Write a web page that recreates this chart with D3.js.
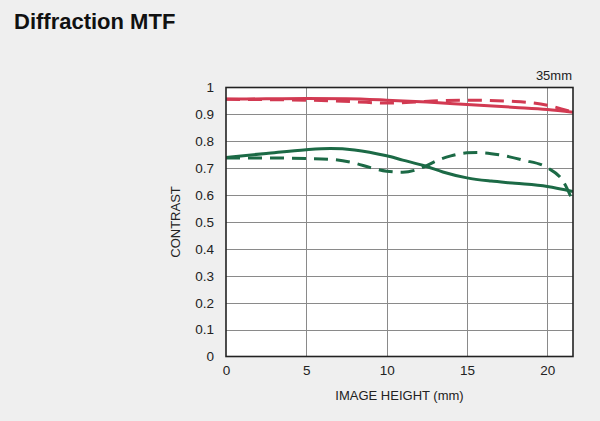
<!DOCTYPE html>
<html><head><meta charset="utf-8">
<script src="https://cdn.jsdelivr.net/npm/d3@7"></script>
<style>
html,body{margin:0;padding:0;background:#efefef;}
svg{display:block;font-family:"Liberation Sans",Arial,sans-serif;}
</style></head>
<body><svg id="c" width="600" height="421"></svg>
<script>
const xTicks = [0, 5, 10, 15, 20];
const yTicks = [0, 0.1, 0.2, 0.3, 0.4, 0.5, 0.6, 0.7, 0.8, 0.9, 1];
const yTickLabels = ["0","0.1","0.2","0.3","0.4","0.5","0.6","0.7","0.8","0.9","1"];
const redSolid = [[0,0.957],[2.5,0.958],[5,0.959],[7.5,0.958],[10,0.953],[12.5,0.946],[15,0.937],[18,0.926],[20,0.918],[21.6,0.908]];
const redDashed = [[0,0.956],[2.5,0.955],[5,0.953],[8,0.947],[10,0.942],[11.5,0.945],[13.3,0.951],[15,0.953],[18,0.948],[20,0.934],[21.6,0.908]];
const greenSolid = [[0,0.740],[2.5,0.755],[5,0.769],[6.5,0.773],[8,0.768],[10,0.746],[11,0.730],[12.4,0.708],[13.5,0.686],[15,0.664],[16.5,0.652],[18,0.644],[20,0.632],[21.6,0.613]];
const greenDashed = [[0,0.738],[2.5,0.738],[5,0.736],[6.5,0.733],[8,0.719],[9,0.702],[10,0.689],[11,0.685],[11.8,0.693],[12.4,0.707],[13.2,0.730],[14,0.746],[15,0.757],[15.7,0.758],[17,0.750],[18.5,0.730],[20,0.702],[21,0.650],[21.6,0.575]];
const seriesColors = {red:"#d23a52", green:"#1c6a46"};

const svg = d3.select("#c");
const x = d3.scaleLinear().domain([0, 21.6]).range([226, 573]);
const y = d3.scaleLinear().domain([0, 1]).range([356.5, 87.5]);

svg.append("text").attr("x", 14).attr("y", 29).attr("font-size", 22).attr("font-weight", "bold")
  .attr("fill", "#111").text("Diffraction MTF");

svg.append("rect").attr("x", x(0)).attr("y", y(1)).attr("width", x(21.6)-x(0)).attr("height", y(0)-y(1)).attr("fill", "#fff");

// grid
svg.append("g").selectAll("line").data(yTicks.filter(d=>d>0 && d<1)).join("line")
  .attr("x1", x(0)).attr("x2", x(21.6)).attr("y1", d=>Math.round(y(d))+0.5).attr("y2", d=>Math.round(y(d))+0.5)
  .attr("stroke", "#8a8a8a").attr("stroke-width", 1);
svg.append("g").selectAll("line").data(xTicks.filter(d=>d>0)).join("line")
  .attr("y1", y(0)).attr("y2", y(1)).attr("x1", d=>Math.round(x(d))+0.5).attr("x2", d=>Math.round(x(d))+0.5)
  .attr("stroke", "#8a8a8a").attr("stroke-width", 1);

// axes (labels only)
const xAxis = d3.axisBottom(x).tickValues(xTicks).tickSize(0).tickPadding(9);
const gx = svg.append("g").attr("transform", `translate(0,${y(0)})`).call(xAxis);
gx.select(".domain").remove();
gx.selectAll("text").attr("font-size", 13.5).attr("fill", "#222").attr("font-family", "Liberation Sans, Arial, sans-serif");

const yAxis = d3.axisLeft(y).tickValues(yTicks).tickFormat((d,i)=>yTickLabels[i]).tickSize(0).tickPadding(12);
const gy = svg.append("g").attr("transform", `translate(${x(0)},0)`).call(yAxis);
gy.select(".domain").remove();
gy.selectAll("text").attr("font-size", 13.5).attr("fill", "#222").attr("font-family", "Liberation Sans, Arial, sans-serif");

const line = d3.line().x(d=>x(d[0])).y(d=>y(d[1])).curve(d3.curveMonotoneX);
const clipId = "plotclip";
svg.append("clipPath").attr("id", clipId).append("rect")
  .attr("x", x(0)).attr("y", y(1)-5).attr("width", x(21.6)-x(0)).attr("height", y(0)-y(1)+10);
const lines = svg.append("g").attr("clip-path", `url(#${clipId})`);
function draw(data, color, dashed){
  lines.append("path").datum(data).attr("d", line).attr("fill","none").attr("stroke", color)
    .attr("stroke-width", 3).attr("stroke-dasharray", dashed ? "14,8" : null);
}
draw(redDashed, seriesColors.red, true);
draw(redSolid, seriesColors.red, false);
draw(greenDashed, seriesColors.green, true);
draw(greenSolid, seriesColors.green, false);

// border
svg.append("rect").attr("x", x(0)).attr("y", y(1)).attr("width", x(21.6)-x(0)).attr("height", y(0)-y(1))
  .attr("fill","none").attr("stroke","#222").attr("stroke-width", 1.6);

svg.append("text").attr("x", 572).attr("y", 80).attr("text-anchor","end").attr("font-size", 13).attr("fill","#222").text("35mm");
svg.append("text").attr("x", (x(0)+x(21.6))/2).attr("y", 400).attr("text-anchor","middle").attr("font-size", 13).attr("fill","#222").text("IMAGE HEIGHT (mm)");
svg.append("text").attr("transform", `translate(180,${(y(0)+y(1))/2}) rotate(-90)`).attr("text-anchor","middle").attr("font-size", 13).attr("fill","#222").text("CONTRAST");
</script></body></html>
